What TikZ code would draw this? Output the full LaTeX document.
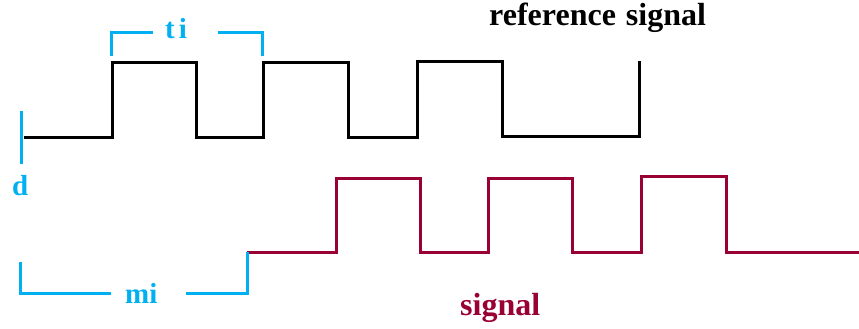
\documentclass[tikz,border=0pt]{standalone}
\usepackage{fontspec}
\setmainfont{Liberation Serif}
\definecolor{markblue}{RGB}{0,176,240}
\definecolor{sigred}{RGB}{153,0,51}
\tikzset{
  refwave/.style={draw=black, line width=3pt, line join=miter},
  sigwave/.style={draw=sigred, line width=3pt, line join=miter},
  marker/.style={draw=markblue, line width=3pt, line join=miter},
  biglabel/.style={inner sep=0pt, font=\bfseries\fontsize{32}{37}\selectfont},
  marklabel/.style={inner sep=0pt, text=markblue, font=\bfseries\fontsize{29}{34}\selectfont}
}
\begin{document}
\begin{tikzpicture}[x=1pt, y=-1pt]
  \useasboundingbox (0,0) rectangle (859,329);

  % reference square wave
  \draw[refwave] (24,137) -- (112,137) -- (112,63) -- (196,63) -- (196,137)
    -- (263,137) -- (263,63) -- (348,63) -- (348,137) -- (417,137) -- (417,62)
    -- (502,62) -- (502,136) -- (639,136) -- (639,61);

  % delayed signal
  \draw[sigwave] (247,252) -- (336,252) -- (336,178) -- (420,178) -- (420,252)
    -- (488,252) -- (488,178) -- (572,178) -- (572,252) -- (641,252) -- (641,176)
    -- (726,176) -- (726,252) -- (859,252);

  % start tick
  \draw[marker] (21,111) -- (21,164);

  % period bracket
  \node[marklabel, anchor=base west] (ti) at (165,39) {t\kern4pt i};
  \draw[marker] (111,56) -- (111,33) -- (153,33);
  \draw[marker] (218,33) -- (262,33) -- (262,56);

  % delay bracket
  \node[marklabel, anchor=base west] (mi) at (125,303) {mi};
  \draw[marker] (20,262) -- (20,293) -- (111,293);
  \draw[marker] (186,293) -- (247,293) -- (247,252);

  \node[marklabel, anchor=base west] (d) at (12,195) {d};

  \node[biglabel, anchor=base west] (reflbl) at (489,26) {reference\kern2pt\ signal};
  \node[biglabel, anchor=base west, text=sigred] (siglbl) at (460,315) {signal};
\end{tikzpicture}
\end{document}
